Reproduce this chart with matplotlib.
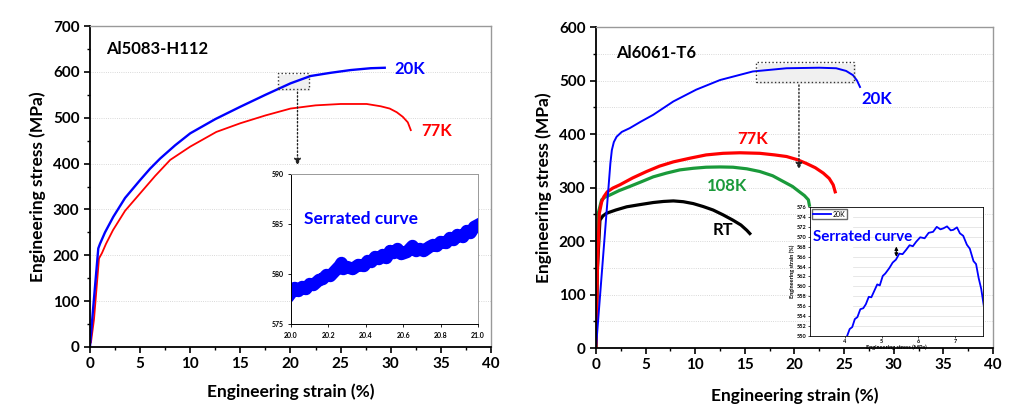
import matplotlib.pyplot as plt
from matplotlib.patches import Rectangle

plt.rcParams['font.family'] = ['Lato', 'DejaVu Sans']
plt.rcParams['font.weight'] = 'bold'
plt.rcParams['axes.labelweight'] = 'bold'

# ---- Al5083-H112 (left) ----
l20_x = [0, 0.3, 0.83, 1.0, 1.5, 2.33, 3.5, 5, 6, 7, 8.5, 10, 12.5, 15, 17.5, 20, 22, 24, 26, 28, 29.4]
l20_y = [0, 80, 215, 225, 250, 284, 325, 364, 389, 411, 440, 466, 497, 524, 550, 575, 591, 598, 604, 608, 609]
l77_x = [0.1, 0.4, 0.9, 1.2, 1.6, 2.3, 3.5, 5, 6.5, 8, 10, 12.6, 15, 17.5, 20, 22.5, 25, 27.6,
         29, 29.9, 30.6, 31.2, 31.7, 32.0]
l77_y = [10, 60, 193, 205, 225, 255, 297, 335, 373, 408, 437, 469, 488, 505, 520, 527, 530, 530,
         525, 520, 512, 502, 490, 473]

# zoom of 20K curve, 20-21 %
s1_x = [20.0, 20.02, 20.04, 20.06, 20.08, 20.1, 20.12, 20.15, 20.17, 20.19, 20.21, 20.24, 20.26,
        20.27, 20.28, 20.3, 20.33, 20.36, 20.39, 20.41, 20.43, 20.45, 20.47, 20.49, 20.51, 20.53,
        20.55, 20.57, 20.59, 20.62, 20.64, 20.65, 20.67, 20.69, 20.71, 20.74, 20.76, 20.78, 20.80,
        20.83, 20.85, 20.87, 20.89, 20.92, 20.94, 20.96, 20.98, 21.0]
s1_y = [578.1, 578.6, 578.3, 578.7, 578.5, 579.0, 578.9, 579.4, 579.5, 579.9, 579.8, 580.4, 580.8,
        581.1, 580.5, 580.7, 580.5, 580.9, 580.8, 581.3, 581.2, 581.7, 581.5, 581.9, 581.6, 582.3,
        582.1, 582.5, 582.0, 582.2, 582.6, 582.8, 582.3, 582.5, 582.3, 582.7, 582.9, 582.8, 583.2,
        583.1, 583.6, 583.4, 583.9, 583.7, 584.3, 584.1, 584.7, 584.9]

# ---- Al6061-T6 (right) ----
r20_x = [0, 1.24, 1.45, 1.6, 1.8, 2.08, 2.6, 3.4, 4.5, 5.77, 7.8, 10.1, 12.5, 15.8, 19.2, 22.5,
         24.2, 25.2, 25.9, 26.3, 26.6]
r20_y = [0, 295, 345, 370, 385, 395, 404, 411, 423, 436, 461, 483, 501, 517, 523, 524,
         523, 518, 510, 500, 488]
r77_x = [0, 0.15, 0.34, 0.57, 0.8, 1.14, 1.7, 2.4, 3.7, 5.1, 6.4, 7.8, 9.5, 11.1, 12.8, 14.5,
         16.5, 18, 19.2, 20.3, 21.2, 22.1, 22.9, 23.5, 23.9, 24.1]
r77_y = [0, 150, 252, 273, 283, 292, 299, 305, 318, 330, 340, 348, 355, 361, 364, 365,
         364, 361, 358, 352, 345, 337, 327, 317, 305, 292]
r108_x = [0, 0.1, 0.23, 0.57, 0.9, 1.4, 2.3, 3.4, 4.6, 5.77, 7.1, 8.45, 9.8, 11.1, 12.5, 13.8,
          15.2, 16.5, 17.8, 18.9, 19.8, 20.5, 21.0, 21.4, 21.5]
r108_y = [0, 150, 252, 277, 282, 286, 294, 302, 311, 320, 327, 333, 336, 338, 338.5, 338,
          335, 330, 322, 311, 302, 292, 285, 277, 267]
rrt_x = [0, 0.15, 0.4, 0.7, 1.07, 2, 3.1, 4.4, 5.77, 6.8, 7.8, 8.8, 9.8, 10.8, 11.8, 12.8,
         13.8, 14.6, 15.2, 15.5]
rrt_y = [0, 150, 239, 247, 252, 258, 264, 268, 272, 274, 275, 273.5, 270, 264.5, 258, 249,
         239, 230, 220, 214]

# zoom of 20K curve near the peak
s2_x = [4.06, 4.13, 4.2, 4.27, 4.34, 4.42, 4.5, 4.57, 4.65, 4.72, 4.8, 4.88, 4.95, 5.03,
        5.1, 5.21, 5.3, 5.39, 5.48, 5.57, 5.67, 5.76, 5.85, 5.94, 6.05, 6.17, 6.28, 6.4,
        6.5, 6.6, 6.68, 6.78, 6.88, 6.95, 7.05, 7.13, 7.22, 7.32, 7.4, 7.5, 7.57, 7.64, 7.71, 7.78]
s2_y = [550.0, 551.4, 551.8, 553.4, 553.8, 555.4, 555.6, 556.4, 557.9, 557.8, 559.1, 560.4,
        560.2, 562.1, 562.6, 563.7, 564.8, 565.4, 566.6, 566.5, 567.4, 568.3, 568.1, 569.0,
        569.9, 569.7, 570.8, 571.0, 572.0, 571.5, 571.7, 572.1, 571.3, 571.4, 571.9, 570.7,
        570.2, 568.4, 567.6, 565.1, 564.5, 561.7, 559.5, 556.1]

fig = plt.figure(figsize=(10.27, 4.12), dpi=100)


def style_main(ax, ymax, ystep, xlabel_pad):
    ax.set_xlim(0, 40)
    ax.set_ylim(0, ymax)
    ax.set_xticks(range(0, 41, 5))
    ax.set_xticks([i + 2.5 for i in range(0, 40, 5)], minor=True)
    ax.set_yticks(range(0, ymax + 1, ystep))
    ax.set_yticks(range(ystep // 2, ymax, ystep), minor=True)
    ax.tick_params(direction='out', labelsize=11, width=1.2, length=4, top=False, right=False)
    ax.tick_params(which='minor', direction='out', width=1, length=2.5)
    for lab in ax.get_xticklabels() + ax.get_yticklabels():
        lab.set_fontweight('bold')
    for s in ['left', 'bottom']:
        ax.spines[s].set_linewidth(1.3)
    for s in ['top', 'right']:
        ax.spines[s].set_color('#999999')
        ax.spines[s].set_linewidth(1)
    ax.set_xlabel('Engineering strain (%)', fontsize=12.5, fontweight='bold', labelpad=xlabel_pad)
    ax.set_ylabel('Engineering stress (MPa)', fontsize=12.5, fontweight='bold', labelpad=5)


# left panel
ax1 = fig.add_axes([0.0876, 0.1578, 0.3905, 0.779])
style_main(ax1, 700, 100, 9)
for v in range(100, 700, 100):
    ax1.axhline(v, color='#cccccc', lw=0.6, ls=':', zorder=0)
ax1.plot(l77_x, l77_y, color='#ff0000', lw=1.3)
ax1.plot(l20_x, l20_y, color='#0000ff', lw=1.7)
ax1.text(1.6, 650, 'Al5083-H112', fontsize=12, va='center')
ax1.text(30.4, 606, '20K', fontsize=12, color='#0000ff', va='center')
ax1.text(33.0, 471, '77K', fontsize=12, color='#ff0000', va='center')
ax1.add_patch(Rectangle((18.9, 559), 3.0, 35, fill=True, fc='#f0f0f0', ec='none', zorder=1))
ax1.add_patch(Rectangle((18.8, 562), 3.0, 35, fill=False, ls=':', lw=1, ec='#333333', zorder=3))
ax1.annotate('', xy=(20.7, 390), xytext=(20.7, 562),
             arrowprops=dict(arrowstyle='-|>', ls=':', color='#222222', lw=1, mutation_scale=10))

# left inset
in1 = fig.add_axes([0.2834, 0.2136, 0.182, 0.364])
in1.plot(s1_x, s1_y, color='#0000ff', lw=9)
in1.set_xlim(20, 21)
in1.set_ylim(575, 590)
in1.set_xticks([20.0, 20.2, 20.4, 20.6, 20.8, 21.0])
in1.set_xticklabels(['20.0', '20.2', '20.4', '20.6', '20.8', '21.0'])
in1.set_yticks([575, 580, 585, 590])
in1.tick_params(labelsize=5, length=2, width=0.6, direction='out')
for s in in1.spines.values():
    s.set_linewidth(0.7)
in1.spines['right'].set_color('#999999')
in1.spines['top'].set_color('#999999')
in1.text(20.07, 585.5, 'Serrated curve', fontsize=12.5, color='#0000ff', va='center')

# right panel
ax2 = fig.add_axes([0.5803, 0.1553, 0.3866, 0.779])
style_main(ax2, 600, 100, 11)
for v in range(50, 600, 50):
    ax2.axhline(v, color='#cccccc', lw=0.6, ls=':', zorder=0)
ax2.plot(rrt_x, rrt_y, color='#000000', lw=2.3)
ax2.plot(r108_x, r108_y, color='#1a9a3a', lw=2.3)
ax2.plot(r77_x, r77_y, color='#ff0000', lw=2.3)
ax2.plot(r20_x, r20_y, color='#0000ff', lw=1.4)
ax2.text(2.0, 551, 'Al6061-T6', fontsize=12, va='center')
ax2.text(26.7, 465, '20K', fontsize=12, color='#0000ff', va='center')
ax2.text(14.2, 391, '77K', fontsize=12, color='#ff0000', va='center')
ax2.text(11.2, 303, '108K', fontsize=12, color='#1a9a3a', va='center')
ax2.text(11.8, 220, 'RT', fontsize=12, color='#000000', va='center')
ax2.add_patch(Rectangle((16.3, 494), 9.9, 37.5, fill=True, fc='#f0f0f0', ec='none', zorder=1))
ax2.add_patch(Rectangle((16.1, 497), 9.9, 37.5, fill=False, ls=':', lw=1, ec='#333333', zorder=3))
ax2.annotate('', xy=(20.45, 329), xytext=(20.45, 497),
             arrowprops=dict(arrowstyle='-|>', ls=':', color='#222222', lw=1, mutation_scale=10))

# right inset
in2 = fig.add_axes([0.7887, 0.1845, 0.1685, 0.313])
for v in range(552, 576, 2):
    in2.axhline(v, xmin=0.25, color='#dddddd', lw=0.5, zorder=0)
in2.plot(s2_x, s2_y, color='#0000ff', lw=1.3, label='20K')
in2.set_xlim(3.05, 7.76)
in2.set_ylim(550, 576)
in2.set_xticks([4, 5, 6, 7])
in2.set_yticks(range(550, 577, 2))
in2.tick_params(labelsize=4, length=1.5, width=0.5, pad=1)
in2.set_xlabel('Engineering stress (MPa)', fontsize=4, labelpad=0)
in2.set_ylabel('Engineering strain (%)', fontsize=4, labelpad=1)
for s in in2.spines.values():
    s.set_linewidth(0.6)
in2.legend(loc='upper left', frameon=True, fancybox=False, edgecolor='#444444',
           handlelength=2.5, borderpad=0.2, handletextpad=0.3, borderaxespad=0.3,
           prop={'weight': 'normal', 'size': 5})
in2.text(3.12, 570, 'Serrated curve', fontsize=11, color='#0000ff', va='center')
in2.annotate('', xy=(5.4, 568.6), xytext=(5.4, 565.4),
             arrowprops=dict(arrowstyle='<|-|>', color='#000000', lw=0.8, mutation_scale=5))

fig.savefig('out.png', dpi=100)
